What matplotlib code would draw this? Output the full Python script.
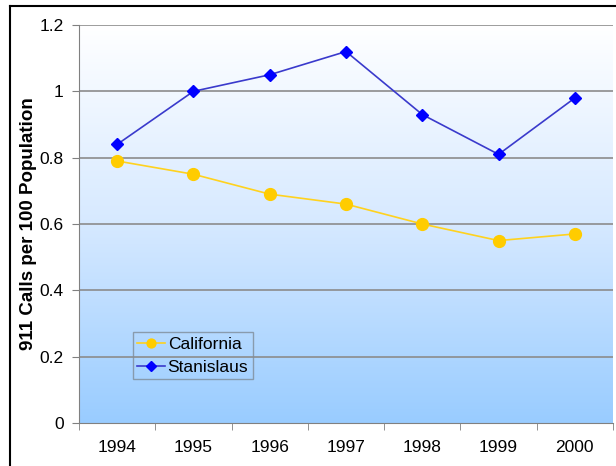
import matplotlib
matplotlib.use('Agg')
import matplotlib.pyplot as plt
from matplotlib.colors import LinearSegmentedColormap
from matplotlib.lines import Line2D
import numpy as np

years = ['1994', '1995', '1996', '1997', '1998', '1999', '2000']
california = [0.79, 0.75, 0.69, 0.66, 0.60, 0.55, 0.57]
stanislaus = [0.84, 1.00, 1.05, 1.12, 0.93, 0.81, 0.98]
yticks = [0, 0.2, 0.4, 0.6, 0.8, 1.0, 1.2]
ytick_labels = ['0', '0.2', '0.4', '0.6', '0.8', '1', '1.2']

plt.rcParams['font.family'] = ['Liberation Sans', 'DejaVu Sans']

fig = plt.figure(figsize=(6.16, 4.66), dpi=100)
ax = fig.add_axes([79 / 616, 43 / 466, 534 / 616, 398 / 466])

x = np.arange(len(years))

# gradient background: white at top, light blue at bottom
grad = np.linspace(0, 1, 256).reshape(-1, 1)
cmap = LinearSegmentedColormap.from_list('bg', ['#99ccff', '#d6e9ff', '#ffffff'])
ax.imshow(grad, extent=(-0.5, 6.5, 0, 1.2), origin='lower', aspect='auto',
          cmap=cmap, zorder=0)

for t in yticks[1:]:
    ax.axhline(t, color='#8c8c8c', linewidth=1.2, zorder=1)

ax.plot(x, california, color='#ffd21f', linewidth=1.2, marker='o',
        markersize=8.5, markerfacecolor='#ffcc00', markeredgecolor='#ffcc00',
        label='California', zorder=3)
ax.plot(x, stanislaus, color='#3a3acc', linewidth=1.2, marker='D',
        markersize=6.5, markerfacecolor='#0000ff', markeredgecolor='#0000ff',
        label='Stanislaus', zorder=3)

ax.set_xlim(-0.5, 6.5)
ax.set_ylim(0, 1.2)
ax.set_yticks(yticks)
ax.set_yticklabels(ytick_labels, fontsize=12.5)
ax.set_xticks(x)
ax.set_xticklabels(years, fontsize=12.5)
ax.set_xticks(np.arange(-0.5, 7, 1), minor=True)
ax.tick_params(axis='x', which='major', length=0, pad=12)
ax.tick_params(axis='x', which='minor', length=5, color='#808080')
ax.tick_params(axis='y', length=5, color='#808080', pad=6)

for side in ['top', 'right']:
    ax.spines[side].set_visible(False)
ax.spines['left'].set_color('#808080')
ax.spines['bottom'].set_color('#808080')

ax.set_ylabel('911 Calls per 100 Population', fontsize=13.5, fontweight='bold',
              labelpad=2)

leg = ax.legend(loc='lower left', bbox_to_anchor=(0.101, 0.11), fontsize=12.5,
                frameon=True, fancybox=False, handlelength=1.6,
                borderpad=0.25, labelspacing=0.45, handletextpad=0.15,
                borderaxespad=0)
leg.get_frame().set_facecolor('none')
leg.get_frame().set_edgecolor('#7f8c99')
for h in leg.legend_handles:
    h.set_markersize(h.get_markersize() * 0.75)

# outer black frame (top and left)
fig.add_artist(Line2D([10 / 616, 1], [1 - 6 / 466, 1 - 6 / 466],
                      color='black', linewidth=1.5))
fig.add_artist(Line2D([10 / 616, 10 / 616], [0, 1 - 6 / 466],
                      color='black', linewidth=1.5))

fig.savefig('out.png', dpi=100)
